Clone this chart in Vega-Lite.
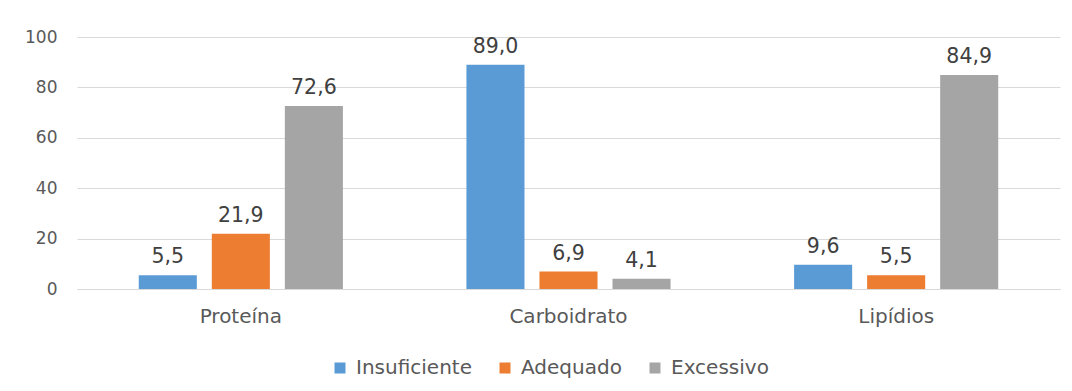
{
  "$schema": "https://vega.github.io/schema/vega-lite/v6.json",
  "width": 983,
  "height": 252,
  "autosize": {"type": "none"},
  "padding": {"left": 77, "top": 37, "right": 12, "bottom": 102},
  "background": "white",
  "config": {
    "view": {"stroke": null},
    "font": "DejaVu Sans",
    "locale": {"number": {"decimal": ",", "thousands": ".", "grouping": [3], "currency": ["", ""]}}
  },
  "data": {
    "values": [
      {"categoria": "Proteína", "grupo": "Insuficiente", "valor": 5.5},
      {"categoria": "Proteína", "grupo": "Adequado", "valor": 21.9},
      {"categoria": "Proteína", "grupo": "Excessivo", "valor": 72.6},
      {"categoria": "Carboidrato", "grupo": "Insuficiente", "valor": 89.0},
      {"categoria": "Carboidrato", "grupo": "Adequado", "valor": 6.9},
      {"categoria": "Carboidrato", "grupo": "Excessivo", "valor": 4.1},
      {"categoria": "Lipídios", "grupo": "Insuficiente", "valor": 9.6},
      {"categoria": "Lipídios", "grupo": "Adequado", "valor": 5.5},
      {"categoria": "Lipídios", "grupo": "Excessivo", "valor": 84.9}
    ]
  },
  "encoding": {
    "x": {
      "field": "categoria", "type": "nominal",
      "sort": ["Proteína", "Carboidrato", "Lipídios"],
      "scale": {"paddingInner": 0.377, "paddingOuter": 0.1885},
      "axis": {
        "title": null, "labelAngle": 0, "ticks": false,
        "domainColor": "#D9D9D9", "domainWidth": 1,
        "labelFont": "DejaVu Sans", "labelFontSize": 20, "labelColor": "#595959", "labelPadding": 17
      }
    },
    "xOffset": {
      "field": "grupo", "type": "nominal",
      "sort": ["Insuficiente", "Adequado", "Excessivo"],
      "scale": {"paddingInner": 0.205, "paddingOuter": 0}
    },
    "y": {
      "field": "valor", "type": "quantitative",
      "scale": {"domain": [0, 100], "nice": false},
      "axis": {
        "title": null, "values": [0, 20, 40, 60, 80, 100],
        "domain": false, "ticks": false,
        "gridColor": "#D9D9D9", "gridWidth": 1,
        "labelFont": "DejaVu Sans", "labelFontSize": 17, "labelColor": "#595959", "labelPadding": 20
      }
    }
  },
  "layer": [
    {
      "mark": {"type": "bar"},
      "encoding": {
        "color": {
          "field": "grupo", "type": "nominal",
          "sort": ["Insuficiente", "Adequado", "Excessivo"],
          "scale": {"domain": ["Insuficiente", "Adequado", "Excessivo"], "range": ["#5B9BD5", "#ED7D31", "#A5A5A5"]},
          "legend": {
            "title": null, "orient": "none", "direction": "horizontal",
            "legendX": 253, "legendY": 321, "padding": 0,
            "symbolType": "square", "symbolSize": 121, "symbolStrokeWidth": 0,
            "labelFont": "DejaVu Sans", "labelFontSize": 20, "labelColor": "#595959", "labelOffset": 6,
            "columnPadding": 23
          }
        }
      }
    },
    {
      "mark": {"type": "text", "baseline": "bottom", "dy": -8, "fontSize": 20.5, "font": "DejaVu Sans", "color": "#404040"},
      "encoding": {
        "text": {"field": "valor", "type": "quantitative", "format": ".1f"}
      }
    }
  ]
}
